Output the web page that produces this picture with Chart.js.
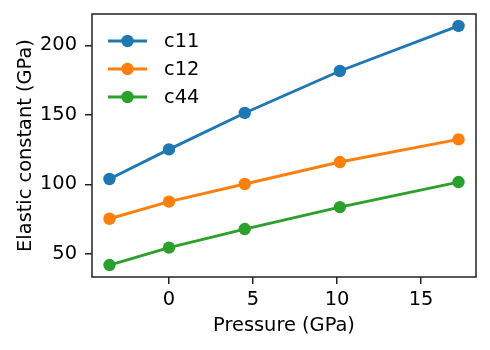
<!DOCTYPE html>
<html>
<head>
<meta charset="utf-8">
<script src="https://cdn.jsdelivr.net/npm/chart.js@4.4.1/dist/chart.umd.min.js"></script>
<style>
    html, body { margin: 0; padding: 0; background: #fff; }
    canvas { display: block; }
</style>
</head>
<body>
<canvas id="elasticChart" width="490" height="350"></canvas>
<script>
const pressure = [-3.54, 0.0, 4.51, 10.17, 17.23];
const c11 = [103.9, 125.2, 151.4, 181.6, 214.0];
const c12 = [75.3, 87.6, 100.3, 116.1, 132.4];
const c44 = [42.0, 54.5, 67.9, 83.7, 101.7];
const seriesNames = ["c11", "c12", "c44"];
const xTicks = [0, 5, 10, 15];
const yTicks = [50, 100, 150, 200];

const FONT = "'DejaVu Sans', sans-serif";
const FONT_SIZE = 19.4;
const colors = ["#1f77b4", "#ff7f0e", "#2ca02c"];
const MARKER_R = 6.2;

function toPoints(ys) {
    return pressure.map((x, i) => ({ x: x, y: ys[i] }));
}

// box round the plot area plus the legend inside it
const frameAndLegend = {
    id: "frameAndLegend",
    afterDatasetsDraw(chart) {
        const { ctx, chartArea } = chart;
        ctx.save();
        ctx.strokeStyle = "#222";
        ctx.lineWidth = 1.5;
        ctx.strokeRect(chartArea.left, chartArea.top,
            chartArea.right - chartArea.left, chartArea.bottom - chartArea.top);

        ctx.font = FONT_SIZE + "px " + FONT;
        ctx.textBaseline = "middle";
        ctx.textAlign = "left";
        chart.data.datasets.forEach((ds, i) => {
            const y = chartArea.top + 27 + i * 28;
            const x0 = chartArea.left + 16;
            ctx.strokeStyle = ds.borderColor;
            ctx.lineWidth = 2.9;
            ctx.beginPath();
            ctx.moveTo(x0, y);
            ctx.lineTo(x0 + 39, y);
            ctx.stroke();
            ctx.fillStyle = ds.backgroundColor;
            ctx.beginPath();
            ctx.arc(x0 + 19.5, y, MARKER_R, 0, Math.PI * 2);
            ctx.fill();
            ctx.fillStyle = "#000";
            ctx.fillText(ds.label, x0 + 56, y + 1);
        });
        ctx.restore();
    },
};

const ctx = document.getElementById("elasticChart").getContext("2d");
new Chart(ctx, {
    type: "scatter",
    data: {
        datasets: [c11, c12, c44].map((vals, i) => ({
            label: seriesNames[i],
            data: toPoints(vals),
            showLine: true,
            borderColor: colors[i],
            backgroundColor: colors[i],
            borderWidth: 2.9,
            pointRadius: MARKER_R,
            pointHoverRadius: MARKER_R,
            pointBorderWidth: 0,
        })),
    },
    options: {
        responsive: false,
        animation: false,
        layout: { padding: { top: 14, right: 14, left: 0, bottom: 0 } },
        plugins: {
            legend: { display: false },
            tooltip: { enabled: false },
        },
        scales: {
            x: {
                type: "linear",
                min: -4.58,
                max: 18.27,
                afterBuildTicks: (scale) => {
                    scale.ticks = xTicks.map((v) => ({ value: v }));
                },
                afterFit: (scale) => {
                    scale.height = 73;
                    scale.paddingLeft = 0;
                    scale.paddingRight = 0;
                },
                border: { display: false },
                grid: {
                    drawOnChartArea: false,
                    drawTicks: true,
                    tickLength: 7,
                    color: "#222",
                    lineWidth: 1.5,
                },
                ticks: {
                    color: "#000",
                    padding: 4,
                    maxRotation: 0,
                    font: { family: FONT, size: FONT_SIZE },
                },
                title: {
                    display: true,
                    text: "Pressure (GPa)",
                    color: "#000",
                    padding: { top: 0, bottom: 12 },
                    font: { family: FONT, size: FONT_SIZE },
                },
            },
            y: {
                type: "linear",
                min: 33.4,
                max: 222.6,
                afterBuildTicks: (scale) => {
                    scale.ticks = yTicks.map((v) => ({ value: v }));
                },
                afterFit: (scale) => {
                    scale.width = 92;
                    scale.paddingTop = 0;
                    scale.paddingBottom = 0;
                },
                border: { display: false },
                grid: {
                    drawOnChartArea: false,
                    drawTicks: true,
                    tickLength: 7,
                    color: "#222",
                    lineWidth: 1.5,
                },
                ticks: {
                    color: "#000",
                    padding: 8,
                    font: { family: FONT, size: FONT_SIZE },
                },
                title: {
                    display: true,
                    text: "Elastic constant (GPa)",
                    color: "#000",
                    padding: { top: 14, bottom: 0 },
                    font: { family: FONT, size: FONT_SIZE },
                },
            },
        },
    },
    plugins: [frameAndLegend],
});
</script>
</body>
</html>
